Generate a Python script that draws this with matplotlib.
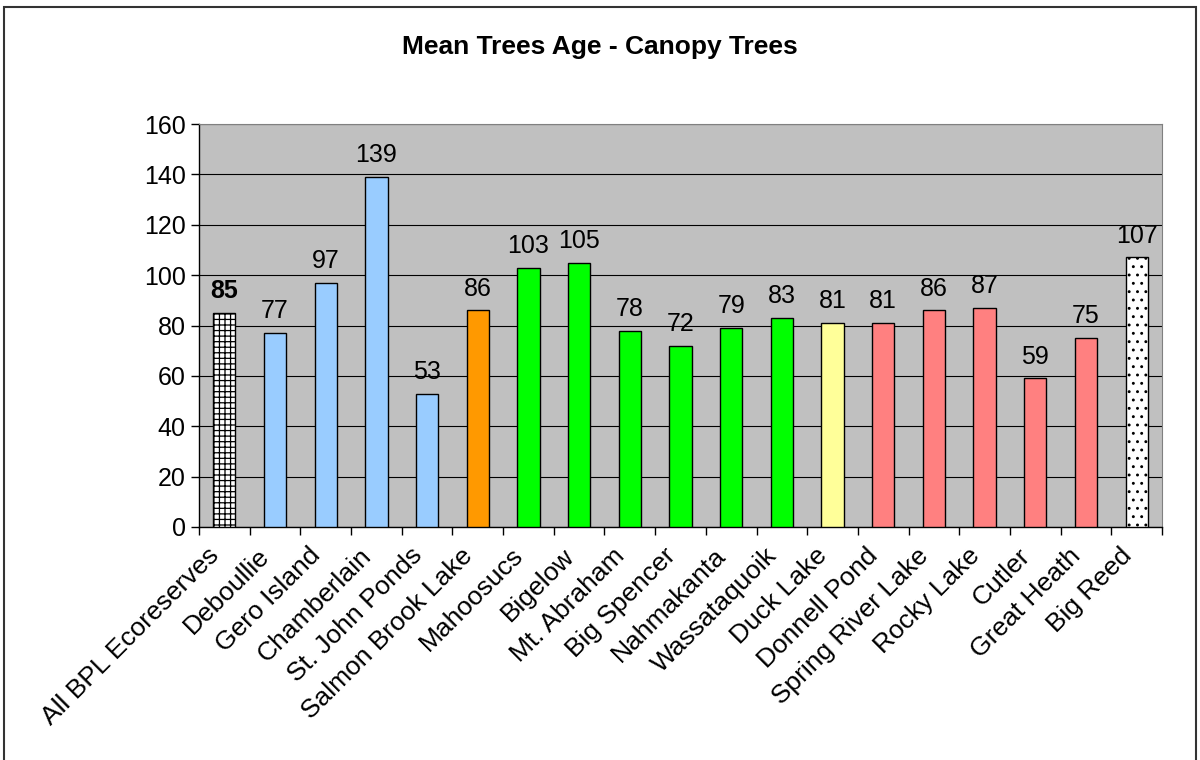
import matplotlib
matplotlib.use("Agg")
import matplotlib.pyplot as plt
from matplotlib.patches import Rectangle
from matplotlib.transforms import ScaledTranslation

plt.rcParams['font.family'] = ['Liberation Sans', 'DejaVu Sans']
plt.rcParams['hatch.linewidth'] = 0.9

# data
sites = ["All BPL Ecoreserves", "Deboullie", "Gero Island", "Chamberlain",
         "St. John Ponds", "Salmon Brook Lake", "Mahoosucs", "Bigelow",
         "Mt. Abraham", "Big Spencer", "Nahmakanta", "Wassataquoik",
         "Duck Lake", "Donnell Pond", "Spring River Lake", "Rocky Lake",
         "Cutler", "Great Heath", "Big Reed"]
mean_age = [85, 77, 97, 139, 53, 86, 103, 105, 78, 72, 79, 83, 81, 81, 86, 87, 59, 75, 107]
groups = ["all", "blue", "blue", "blue", "blue", "orange", "green", "green",
          "green", "green", "green", "green", "yellow", "red", "red", "red",
          "red", "red", "reed"]

group_colors = {"all": "white", "blue": "#99CCFF", "orange": "#FF9900",
                "green": "#00FF00", "yellow": "#FFFF99", "red": "#FF8080",
                "reed": "white"}
group_hatch = {"all": "+++", "reed": ".."}

fig = plt.figure(figsize=(12, 7.6), dpi=100)
ax = fig.add_axes([199 / 1200, 1 - 527 / 760, 963 / 1200, 403 / 760])
ax.set_facecolor("#C0C0C0")

x = list(range(len(sites)))
bars = ax.bar(x, mean_age, width=0.44,
              color=[group_colors[g] for g in groups],
              edgecolor="black", linewidth=1.0, zorder=3)
for b, g in zip(bars, groups):
    if g in group_hatch:
        b.set_hatch(group_hatch[g])

for i, v in enumerate(mean_age):
    ax.annotate(str(v), (i, v), xytext=(0, 7), textcoords="offset points",
                ha="center", va="bottom", fontsize=18,
                fontweight="bold" if i == 0 else "normal")

ax.set_xlim(-0.5, len(sites) - 0.5)
ax.set_ylim(0, 160)
ax.set_yticks(range(0, 161, 20))
ax.yaxis.grid(True, color="black", linewidth=0.8, zorder=0)
ax.set_axisbelow(True)
ax.tick_params(axis="y", labelsize=18, length=6, width=1, direction="out")

ax.set_xticks(x)
ax.set_xticklabels(sites, rotation=45, ha="right", va="center",
                   rotation_mode="anchor", fontsize=19)
ax.tick_params(axis="x", which="major", length=0, pad=18)
shift = ScaledTranslation(-9 / 100, 0, fig.dpi_scale_trans)
for lbl in ax.get_xticklabels():
    lbl.set_transform(lbl.get_transform() + shift)
ax.set_xticks([i - 0.5 for i in range(len(sites) + 1)], minor=True)
ax.tick_params(axis="x", which="minor", length=6, width=1, direction="out")

for side in ["top", "right"]:
    ax.spines[side].set_color("#808080")
ax.spines["left"].set_linewidth(1)
ax.spines["bottom"].set_linewidth(1)

fig.text(0.5, 1 - 47 / 760, "Mean Trees Age - Canopy Trees", ha="center", va="center",
         fontsize=19, fontweight="bold")

# outer chart border
fig.add_artist(Rectangle((4 / 1200, -0.05), 1192 / 1200, 1 - 7 / 760 + 0.05,
                         transform=fig.transFigure, fill=False,
                         edgecolor="#333333", linewidth=1.5))

fig.savefig("out.png", dpi=100)
